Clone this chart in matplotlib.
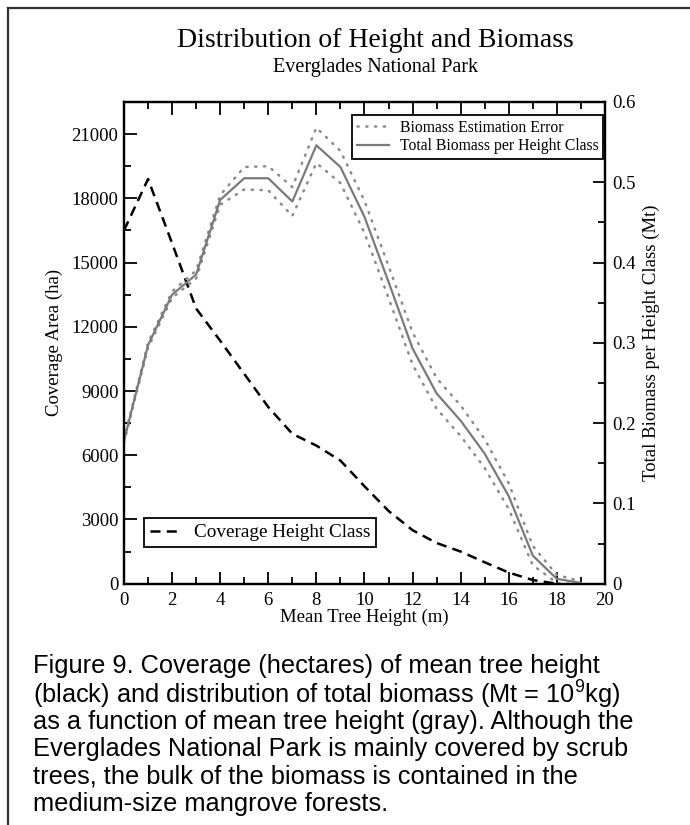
import numpy as np
import matplotlib
matplotlib.use("Agg")
import matplotlib.pyplot as plt
from matplotlib.lines import Line2D
from matplotlib.ticker import MultipleLocator, FuncFormatter

plt.rcParams['font.family'] = 'serif'
plt.rcParams['font.serif'] = ['Liberation Serif', 'DejaVu Serif']
plt.rcParams['mathtext.fontset'] = 'custom'
plt.rcParams['mathtext.rm'] = 'Liberation Sans'

# coverage area (ha) per mean tree height class
cov_height = [0, 1, 2, 3, 4, 5, 6, 7, 8, 9, 10, 11, 12, 13, 14, 15, 16, 17, 18]
coverage = [16500, 18900, 15900, 12850, 11350, 9800, 8250, 7000, 6450, 5750,
            4550, 3400, 2500, 1900, 1500, 1000, 520, 170, 0]

# total biomass (Mt) per height class and its estimation error
bio_height = [0, 1, 2, 3, 4, 5, 6, 7, 8, 9, 10, 11, 12, 13, 14, 15, 16, 17, 18, 19]
biomass = [0.178, 0.297, 0.360, 0.385, 0.478, 0.505, 0.505, 0.476, 0.546, 0.519,
           0.457, 0.376, 0.293, 0.237, 0.203, 0.162, 0.109, 0.035, 0.006, 0.001]
bio_err = [0.002, 0.003, 0.004, 0.005, 0.006, 0.014, 0.015, 0.018, 0.022, 0.020,
           0.020, 0.020, 0.020, 0.019, 0.019, 0.018, 0.016, 0.012, 0.005, 0.002]

caption_lines = ["Figure 9. Coverage (hectares) of mean tree height",
                 "(black) and distribution of total biomass (Mt = 10$^9$kg)",
                 "as a function of mean tree height (gray). Although the",
                 "Everglades National Park is mainly covered by scrub",
                 "trees, the bulk of the biomass is contained in the",
                 "medium-size mangrove forests."]

fig = plt.figure(figsize=(6.9, 8.25), dpi=100)
ax = fig.add_axes([0.1797, 0.2925, 0.697, 0.5839])
ax2 = ax.twinx()

dash_line, = ax.plot(cov_height, coverage, color='black', lw=1.8,
                     dashes=(4, 2.5), label='Coverage Height Class')

b = np.array(biomass)
e = np.array(bio_err)
gray = '#7a7a7a'
err_up, = ax2.plot(bio_height, b + e, color='#8a8a8a', lw=1.8,
                   linestyle=(0, (0.5, 3.0)), dash_capstyle='round',
                   label='Biomass Estimation Error')
ax2.plot(bio_height, b - e, color='#8a8a8a', lw=1.8,
         linestyle=(0, (0.5, 3.0)), dash_capstyle='round')
bio_line, = ax2.plot(bio_height, biomass, color=gray, lw=1.6,
                     label='Total Biomass per Height Class')

ax.set_xlim(0, 20)
ax.set_ylim(0, 22500)
ax2.set_ylim(0, 0.6)
ax.set_xticks(np.arange(0, 21, 2))
ax.xaxis.set_minor_locator(MultipleLocator(1))
ax.set_yticks(np.arange(0, 21001, 3000))
ax.yaxis.set_minor_locator(MultipleLocator(1500))
ax2.set_yticks(np.arange(0, 0.61, 0.1))
ax2.yaxis.set_minor_locator(MultipleLocator(0.05))
ax2.yaxis.set_major_formatter(FuncFormatter(lambda v, p: f"{v:g}"))

for a in (ax, ax2):
    for s in a.spines.values():
        s.set_linewidth(1.6)
ax.tick_params(axis='both', which='major', direction='in', length=9, width=1.3,
               labelsize=13.5, pad=4, top=True)
ax.tick_params(axis='both', which='minor', direction='in', length=5, width=1.3,
               top=True)
ax.tick_params(axis='x', which='major', pad=6)
ax.tick_params(axis='y', right=False, which='both')
ax2.tick_params(axis='y', which='major', direction='in', length=9, width=1.3,
                labelsize=13.5, pad=5)
ax2.tick_params(axis='y', which='minor', direction='in', length=5, width=1.3)

ax.set_xlabel('Mean Tree Height (m)', fontsize=13.5, labelpad=0)
ax.set_ylabel('Coverage Area (ha)', fontsize=13.5, labelpad=6)
ax2.set_ylabel('Total Biomass per Height Class (Mt)', fontsize=13.5, labelpad=5)

leg1 = ax2.legend(handles=[err_up, bio_line], loc='upper right',
                  bbox_to_anchor=(0.996, 0.973), fontsize=11.3, frameon=True,
                  fancybox=False, edgecolor='black', framealpha=1,
                  handlelength=2.0, borderpad=0.3, labelspacing=0.15,
                  handletextpad=0.7, borderaxespad=0)
leg1.get_frame().set_linewidth(1.3)
ax2.add_artist(leg1)
leg2 = ax2.legend(handles=[dash_line], loc='lower left',
                  bbox_to_anchor=(0.0416, 0.076), fontsize=13.8, frameon=True,
                  fancybox=False, edgecolor='black', framealpha=1,
                  handlelength=1.6, borderpad=0.3, handletextpad=0.7,
                  borderaxespad=0)
leg2.get_frame().set_linewidth(1.3)

fig.text(0.5435, 0.9515, 'Distribution of Height and Biomass', fontsize=20,
         ha='center', va='center')
fig.text(0.5435, 0.9176, 'Everglades National Park', fontsize=14.5,
         ha='center', va='center')

# caption, one text per line so spacing stays even
cap_top = 664
for i, line in enumerate(caption_lines):
    y = 1 - (cap_top + i * 27.6) / 825
    fig.text(0.048, y, line, fontsize=18.3, family='Liberation Sans',
             ha='left', va='center_baseline')

# page frame (left and top rules)
fig.add_artist(Line2D([0.0116, 0.0116], [0, 0.990], transform=fig.transFigure,
                      color='#333333', lw=1.6))
fig.add_artist(Line2D([0.0116, 1.0], [0.990, 0.990], transform=fig.transFigure,
                      color='#333333', lw=1.6))

fig.savefig('out.png', dpi=100)
